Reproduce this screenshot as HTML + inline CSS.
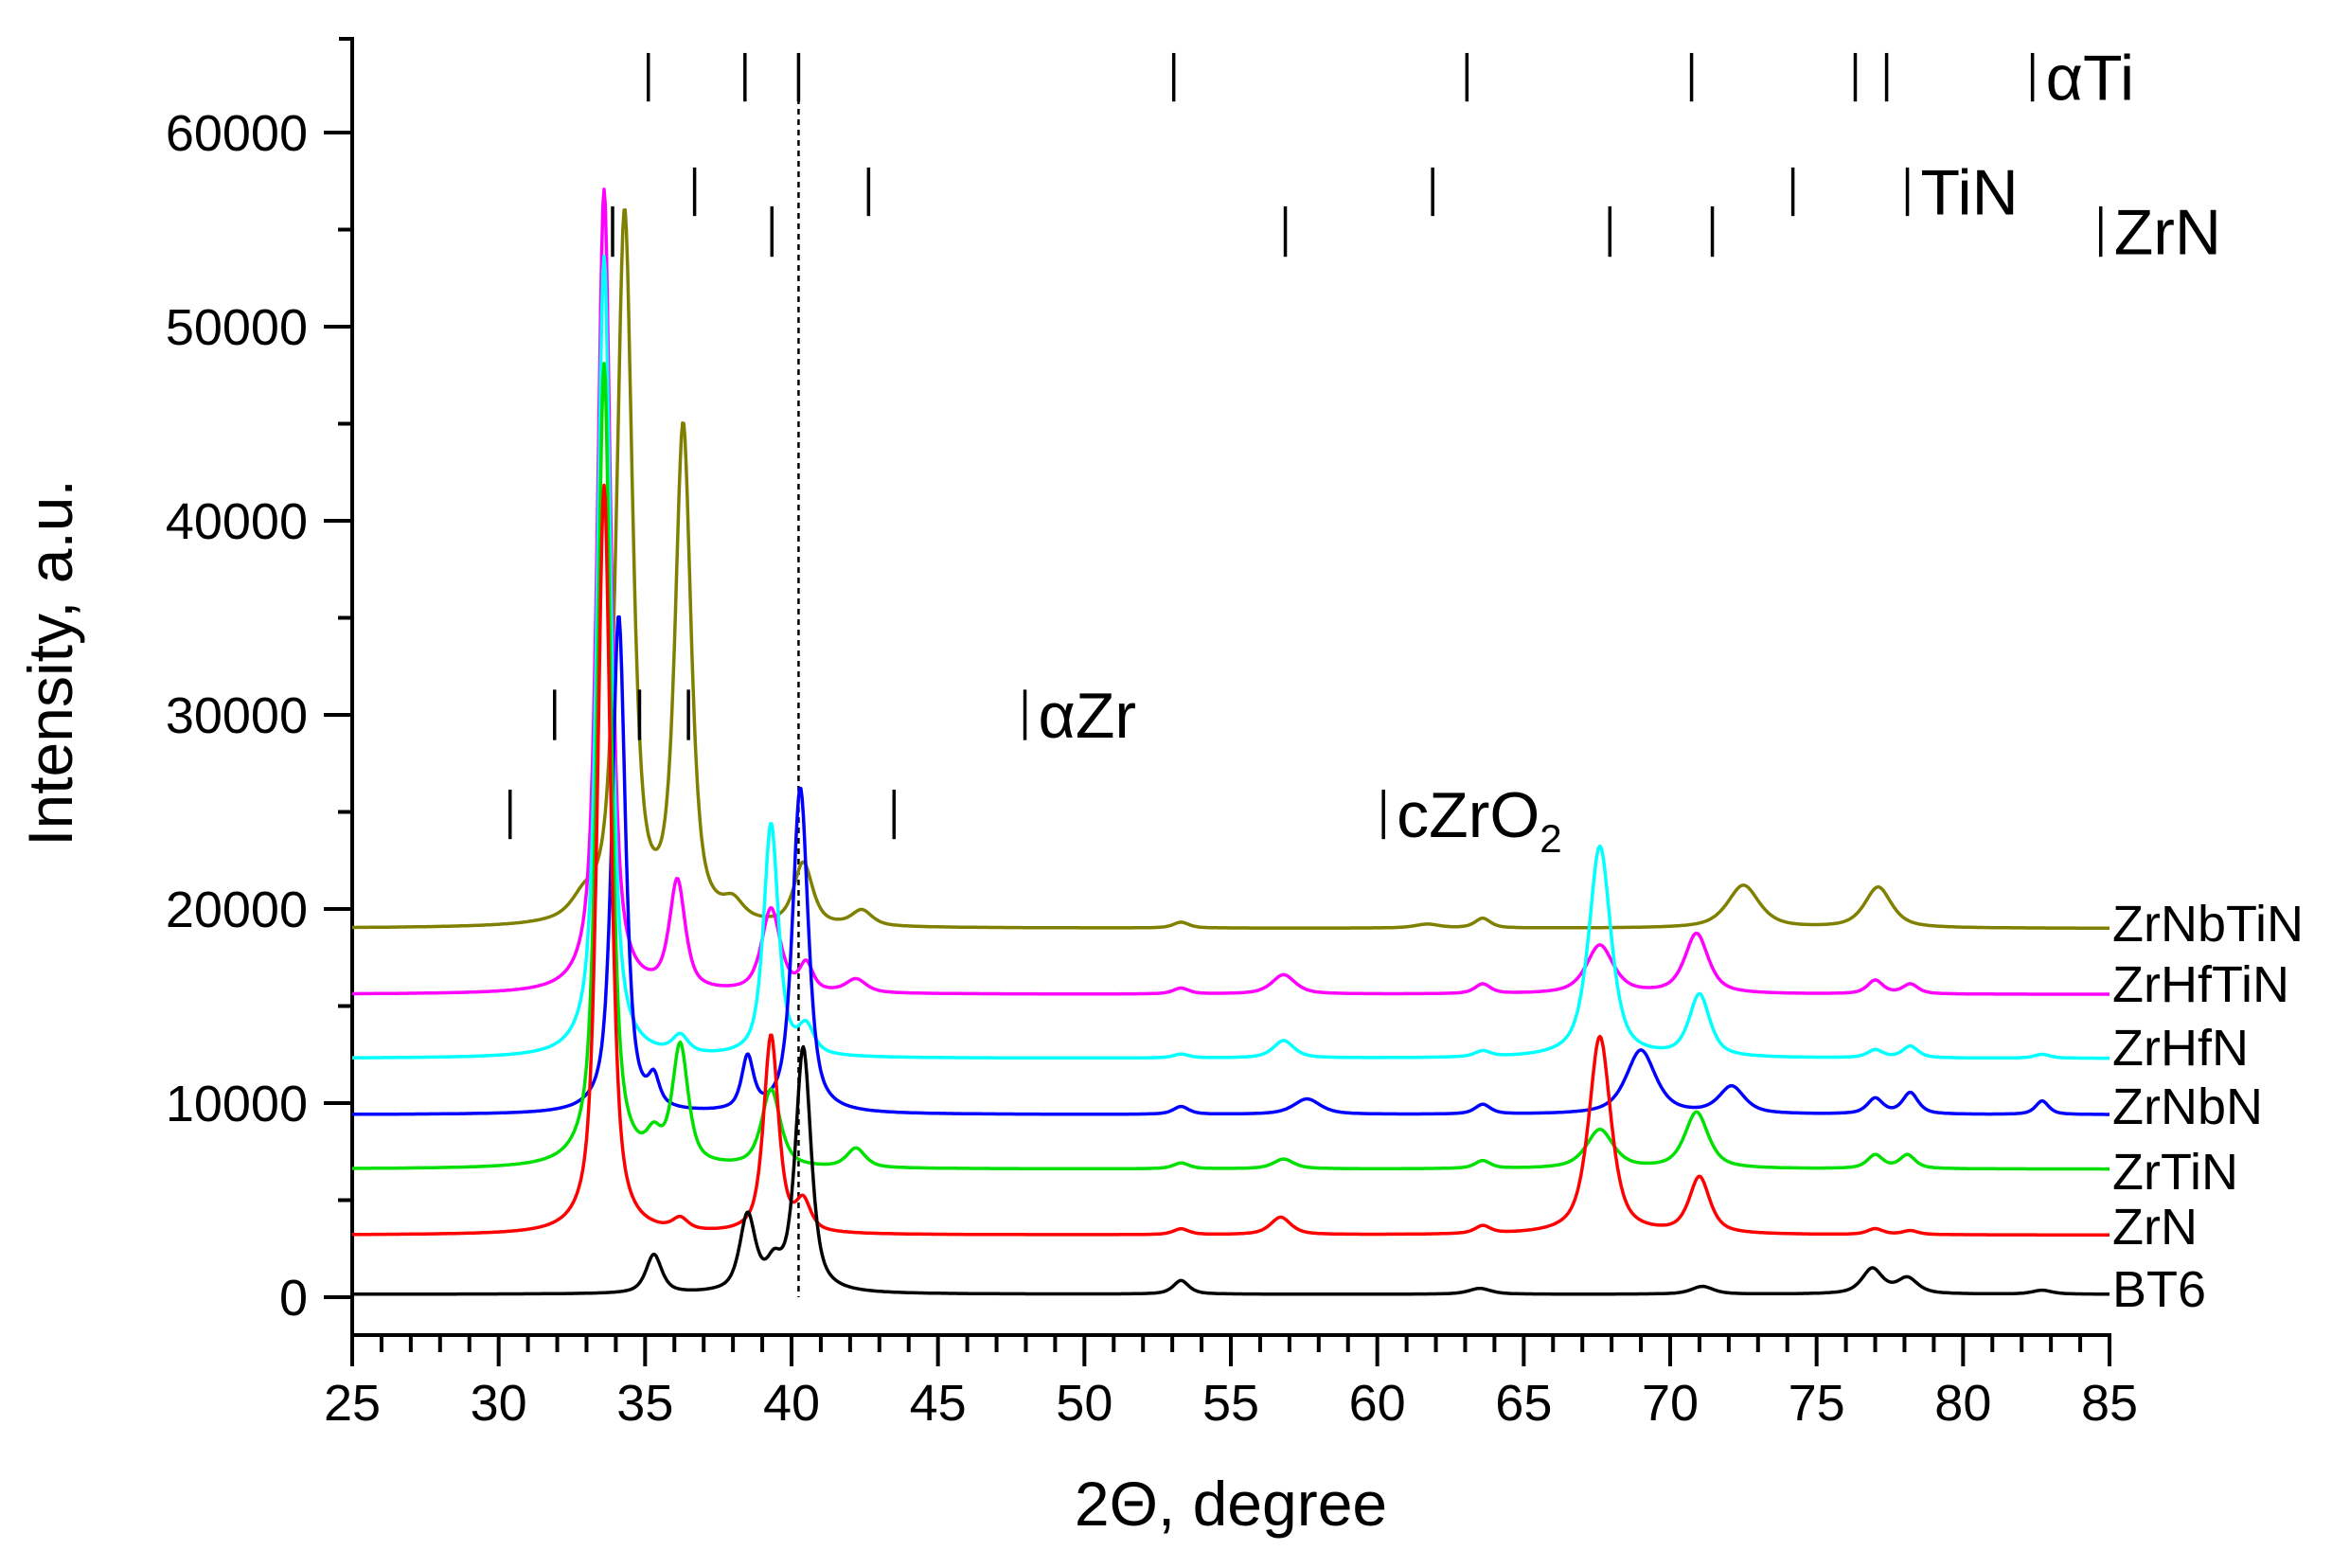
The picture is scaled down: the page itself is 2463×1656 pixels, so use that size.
<!DOCTYPE html>
<html><head><meta charset="utf-8"><style>
html,body{margin:0;padding:0;background:#fff;}
svg{display:block;font-family:"Liberation Sans",Arial,sans-serif;}
</style></head><body>
<svg id="chart" width="2463" height="1656" viewBox="0 0 2463 1656" xmlns="http://www.w3.org/2000/svg">
<rect width="2463" height="1656" fill="#fff"/>
<g id="axes"></g>
<g id="series"></g>
<g id="markers"></g>
<text x="1300" y="1611" font-size="66" text-anchor="middle">2Θ, degree</text>
<text transform="translate(76,700) rotate(-90)" font-size="66" text-anchor="middle">Intensity, a.u.</text>
</svg>
<script>
const seriesNames = ["BT6","ZrN","ZrTiN","ZrNbN","ZrHfN","ZrHfTiN","ZrNbTiN"];
const seriesColors = ["#000000","#ff0000","#00e000","#0000ff","#00ffff","#ff00ff","#808000"];
const seriesOffsets = [150,3200,6600,9400,12300,15600,19000];
const peakPos = [
 [35.3,38.5,39.4,40.4,53.3,63.5,71.1,76.9,78.1,82.7],
 [33.6,36.2,39.3,40.4,53.3,56.7,63.6,67.6,71.0,77.0,78.2],
 [33.6,35.3,36.2,39.3,42.2,53.3,56.8,63.6,67.6,70.9,77.0,78.1],
 [34.1,35.3,38.5,40.3,53.3,57.6,63.6,69.0,72.1,77.0,78.2,82.7],
 [33.6,36.2,39.3,40.5,53.3,56.8,63.6,67.6,71.0,77.0,78.2,82.7],
 [33.6,36.1,39.3,40.5,42.2,53.3,56.8,63.6,67.6,70.9,77.0,78.2],
 [32.9,34.3,36.3,38.0,40.4,42.4,53.3,61.7,63.6,72.5,77.1]
];
const peakHeights = [
 [2000,3900,1200,12600,700,300,400,1300,800,200],
 [38600,600,10200,1500,300,900,400,10200,2900,300,200],
 [41400,1200,6100,4000,1000,300,500,400,2000,2900,700,700],
 [25700,1400,2700,16800,400,800,500,3300,1400,800,1100,700],
 [41300,900,12000,1400,200,900,300,10900,3200,400,600,200],
 [41400,5600,4300,1400,700,300,1000,500,2500,3100,700,500],
 [900,36600,25400,900,3200,800,300,200,500,2200,2100]
];
const peakWidths = [
 [0.32,0.32,0.3,0.32,0.32,0.45,0.45,0.42,0.42,0.4],
 [0.27,0.32,0.3,0.3,0.32,0.42,0.32,0.45,0.42,0.32,0.32],
 [0.27,0.3,0.32,0.38,0.38,0.32,0.42,0.32,0.55,0.48,0.32,0.32],
 [0.27,0.22,0.24,0.32,0.32,0.55,0.32,0.6,0.52,0.32,0.32,0.27],
 [0.27,0.32,0.3,0.32,0.32,0.42,0.32,0.45,0.42,0.32,0.32,0.32],
 [0.27,0.32,0.38,0.27,0.42,0.32,0.48,0.32,0.55,0.48,0.32,0.32],
 [0.5,0.32,0.32,0.42,0.38,0.42,0.32,0.5,0.32,0.65,0.55]
];
const markerPhases = ["αTi","TiN","ZrN","αZr","cZrO2"];
const markerLines = [
 [35.11,38.41,40.24,53.05,63.06,70.73,76.32,77.39],
 [36.69,42.63,61.89,74.19],
 [33.89,39.33,56.86,67.94,71.44],
 [31.91,34.81,36.48],
 [30.39,43.50]
];
const markerLabelPos = [82.37,78.10,84.70,47.97,60.21];
const markerTop = [64100,58200,56200,31300,26150];
const markerBottom = [61600,55700,53600,28700,23600];
const xTicks = [25,30,35,40,45,50,55,60,65,70,75,80,85];
const yTicks = [0,10000,20000,30000,40000,50000,60000];
const refLine = 40.24;

const NS="http://www.w3.org/2000/svg";
const X0=372, X1=2228, XMIN=25, XMAX=85, Y0=1370, YPER=0.0205;
function X(v){return X0+(v-XMIN)*(X1-X0)/(XMAX-XMIN);}
function Y(v){return Y0-v*YPER;}
function mk(tag,attrs,parent){const e=document.createElementNS(NS,tag);for(const k in attrs)e.setAttribute(k,attrs[k]);parent.appendChild(e);return e;}

const axes=document.getElementById('axes');
let a=mk('line',{x1:X0,y1:39,x2:X0,y2:1411,stroke:'#000','stroke-width':4},axes);


a=mk('line',{x1:X0-2,y1:1410,x2:X1+2,y2:1410,stroke:'#000','stroke-width':4},axes);


mk('line',{x1:X0-14,y1:41,x2:X0,y2:41,stroke:'#000','stroke-width':4},axes);
for(let v=XMIN;v<=XMAX;v++){
  const major=(v%5===0);
  const t=mk('line',{x1:X(v),y1:1410,x2:X(v),y2:major?1443:1428,stroke:'#000','stroke-width':4},axes);
  
  
}
xTicks.forEach(v=>{const t=mk('text',{x:X(v),y:1500,'font-size':54,'text-anchor':'middle'},axes);t.textContent=v;
  
  });
for(let v=0;v<=60000;v+=5000){
  const major=(v%10000===0);
  const t=mk('line',{x1:major?X0-30:X0-15,y1:Y(v),x2:X0,y2:Y(v),stroke:'#000','stroke-width':4},axes);
  
  
}
yTicks.forEach(v=>{const t=mk('text',{x:X0-47,y:Y(v)+19,'font-size':54,'text-anchor':'end'},axes);t.textContent=v;
  
  });
const dl=mk('line',{x1:X(refLine),y1:60,x2:X(refLine),y2:Y(0),stroke:'#000','stroke-width':2.5,'stroke-dasharray':'6,5'},axes);



const sg=document.getElementById('series');
function pv(x,c,w){const d=(x-c)/w;return 0.7/(1+d*d)+0.3*Math.exp(-0.693*d*d);}
const order=[6,5,4,3,2,1,0];
const labelY=[1380,1314,1256,1187,1125,1058,994];
order.forEach(i=>{
  let pts=[];
  for(let x=XMIN;x<=XMAX+1e-9;x+=0.04){
    let y=seriesOffsets[i];
    for(let k=0;k<peakPos[i].length;k++) y+=peakHeights[i][k]*pv(x,peakPos[i][k],peakWidths[i][k]);
    pts.push(X(x).toFixed(1)+','+Y(y).toFixed(1));
  }
  const p=mk('polyline',{points:pts.join(' '),fill:'none',stroke:seriesColors[i],'stroke-width':3.5,'stroke-linejoin':'round'},sg);
  
  
  const t=mk('text',{x:2231,y:labelY[i],'font-size':54},sg);
  t.textContent=seriesNames[i];
  
  
});

const mg=document.getElementById('markers');
markerPhases.forEach((ph,i)=>{
  markerLines[i].concat([markerLabelPos[i]]).forEach(v=>{
    const l=mk('line',{x1:X(v),y1:Y(markerTop[i]),x2:X(v),y2:Y(markerBottom[i]),stroke:'#000','stroke-width':3.5},mg);
    
    
  });
  const t=mk('text',{x:X(markerLabelPos[i])+14,y:(Y(markerTop[i])+Y(markerBottom[i]))/2+24,'font-size':68},mg);
  if(ph==='cZrO2'){t.textContent='cZrO';const s=mk('tspan',{'font-size':42,dy:16},t);s.textContent='2';}
  else t.textContent=ph;
  
  
});
</script>
</body></html>
